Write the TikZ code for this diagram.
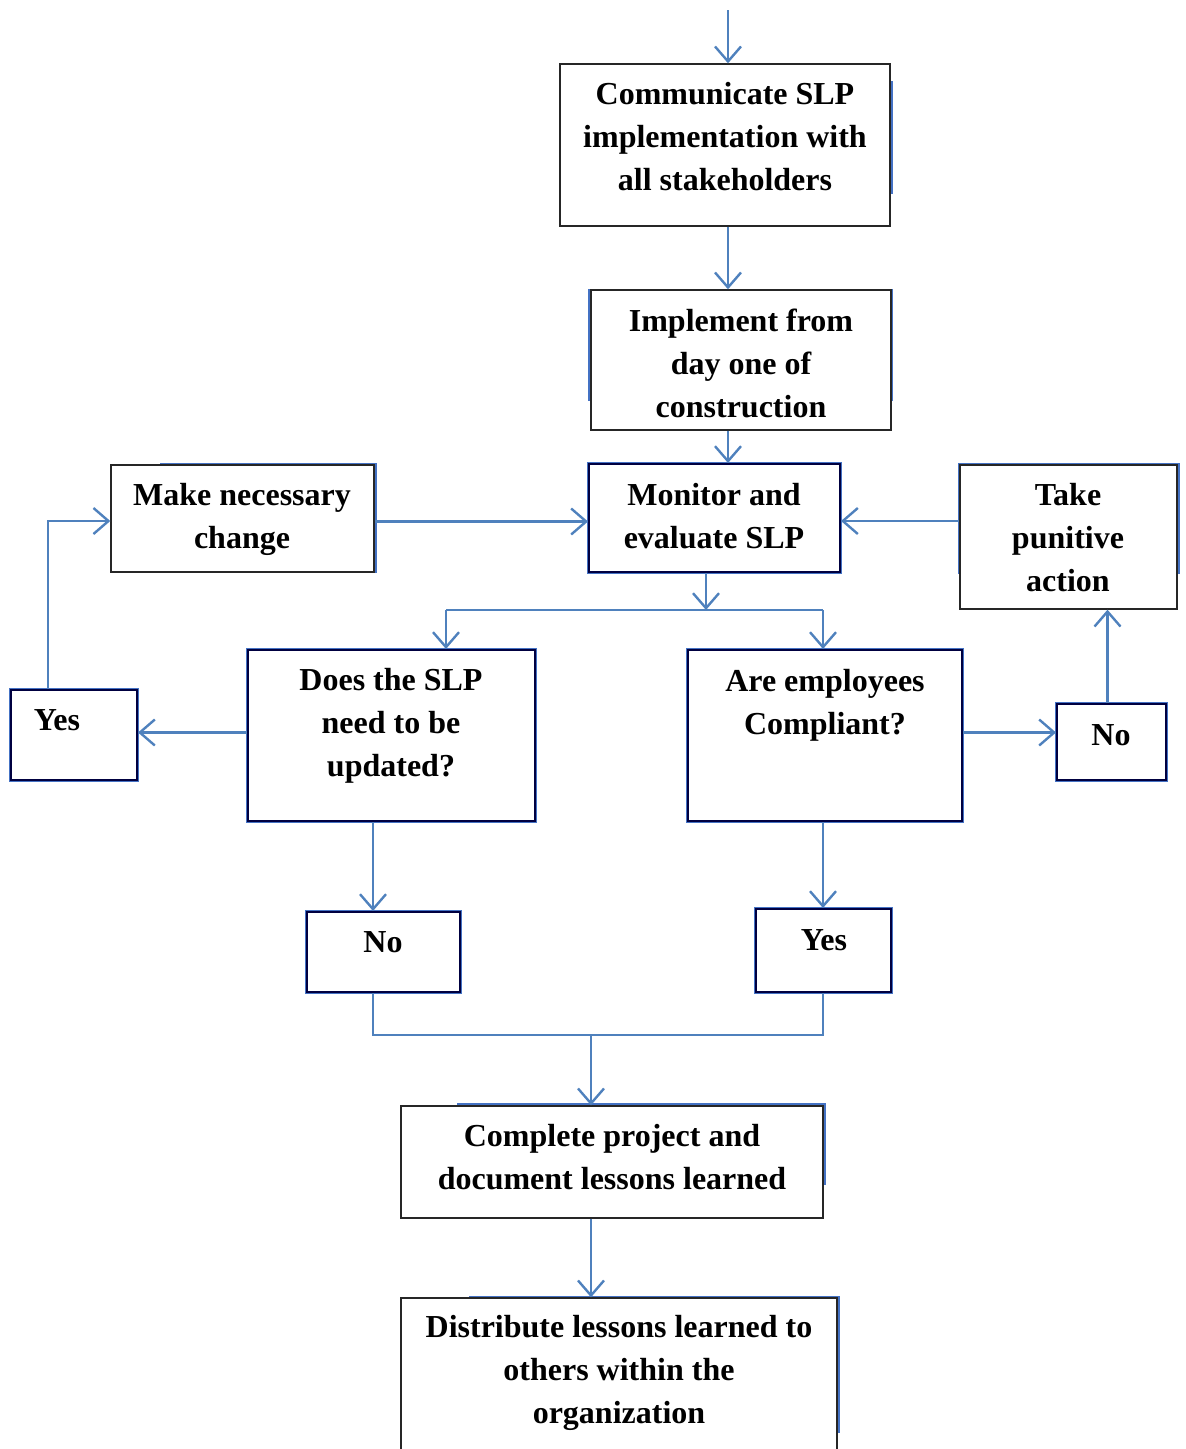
\documentclass[tikz,border=0pt]{standalone}
\usepackage{fontspec}
\setmainfont{Liberation Serif}
\usetikzlibrary{arrows.meta, positioning}
\definecolor{linkblue}{RGB}{79,129,189}
\definecolor{edgeblue}{RGB}{68,114,196}
\tikzset{
  plainbox/.style={draw=black!85, line width=1.4pt, fill=white, inner sep=0pt},
  bluebox/.style={draw=black!75!blue, line width=2pt, fill=white, inner sep=0pt,
    preaction={draw=edgeblue, line width=4.4pt}},
  ghost/.style={draw=edgeblue, line width=2.6pt},
  boxtext/.style={align=center, font=\fontsize{32}{43}\selectfont\bfseries, inner sep=0pt},
  link/.style={draw=linkblue, line width=2.4pt},
  flow/.style={link, -{Straight Barb[length=15pt,width=26pt]}}
}

\begin{document}
\begin{tikzpicture}[x=1pt,y=-1pt]
\useasboundingbox (0,0) rectangle (1186,1449);

% blue outlines showing behind some boxes
\draw[ghost] (700,82) rectangle (892,193);
\draw[ghost] (589,290) rectangle (892,400);
\draw[ghost] (161,464) rectangle (376,572);
\draw[ghost] (959,464) rectangle (1179,573);
\draw[ghost] (458,1104) rectangle (825,1184);
\draw[ghost] (470,1297) rectangle (839,1432);

% boxes
\node[plainbox, minimum width=330pt, minimum height=162pt] (comm) at (725,145) {};
\node[plainbox, minimum width=300pt, minimum height=140pt] (impl) at (741,360) {};
\node[bluebox, minimum width=251pt, minimum height=108pt] (mon) at (714.5,518) {};
\node[plainbox, minimum width=263pt, minimum height=107pt] (make) at (242.5,518.5) {};
\node[plainbox, minimum width=217pt, minimum height=144pt] (take) at (1068.5,537) {};
\node[bluebox, minimum width=287pt, minimum height=171pt] (does) at (391.5,735.5) {};
\node[bluebox, minimum width=274pt, minimum height=171pt] (are) at (825,735.5) {};
\node[bluebox, minimum width=126pt, minimum height=90pt] (yesL) at (74,735) {};
\node[bluebox, minimum width=109pt, minimum height=76pt] (noR) at (1111.5,742) {};
\node[bluebox, minimum width=153pt, minimum height=80pt] (noB) at (383.5,952) {};
\node[bluebox, minimum width=135pt, minimum height=83pt] (yesB) at (823.5,950.5) {};
\node[plainbox, minimum width=422pt, minimum height=112pt] (done) at (612,1162) {};
\node[plainbox, minimum width=436pt, minimum height=182pt] (dist) at (619,1389) {};

% texts
\node[boxtext] (comm-txt) at (725,137) {Communicate SLP\\implementation with\\all stakeholders};
\node[boxtext] (impl-txt) at (741,363) {Implement from\\day one of\\construction};
\node[boxtext] (mon-txt) at (714,516) {Monitor and\\evaluate SLP};
\node[boxtext] (make-txt) at (242,519) {Make necessary\\change};
\node[boxtext] (take-txt) at (1068,537.5) {Take\\punitive\\action};
\node[boxtext] (does-txt) at (391,726) {Does the SLP\\need to be\\updated?};
\node[boxtext] (are-txt) at (825,705) {Are employees\\Compliant?};
\node[boxtext] (yesL-txt) at (57,720) {Yes};
\node[boxtext] (noR-txt) at (1111,735) {No};
\node[boxtext] (noB-txt) at (383,942) {No};
\node[boxtext] (yesB-txt) at (824,940) {Yes};
\node[boxtext] (done-txt) at (612,1157) {Complete project and\\document lessons learned};
\node[boxtext] (dist-txt) at (619,1373) {Distribute lessons learned to\\others within the\\organization};

% connectors
\coordinate (start) at (728,10);
\coordinate (split) at (706,610);
\coordinate (splitL) at (446,610);
\coordinate (splitR) at (823,610);
\coordinate (loopL) at (48,521);
\coordinate (joinL) at (373,1035);
\coordinate (joinR) at (823,1035);
\coordinate (joinM) at (591,1035);

\draw[flow] (start) -- (start |- comm.north);
\draw[flow] (comm.south -| start) -- (start |- impl.north);
\draw[flow] (impl.south -| start) -- (start |- mon.north);
\draw[flow] ([yshift=-3pt]make.east) -- ([yshift=-3pt]make.east -| mon.west);
\draw[flow] ([yshift=-3pt]mon.east -| take.west) -- ([yshift=-3pt]mon.east);
\draw[flow] (mon.south -| split) -- (split);
\draw[link] (splitL) -- (splitR);
\draw[flow] (splitL) -- (splitL |- does.north);
\draw[flow] (splitR) -- (splitR |- are.north);
\draw[flow] ([yshift=3pt]does.west) -- ([yshift=3pt]does.west -| yesL.east);
\draw[flow] (yesL.north -| loopL) -- (loopL) -- (loopL -| make.west);
\draw[flow] ([yshift=3pt]are.east) -- ([yshift=3pt]are.east -| noR.west);
\draw[flow] ([xshift=-4pt]noR.north) -- ([xshift=-4pt]noR.north |- take.south);
\draw[flow] (does.south -| joinL) -- (joinL |- noB.north);
\draw[flow] (are.south -| joinR) -- (joinR |- yesB.north);
\draw[link] (noB.south -| joinL) -- (joinL) -- (joinR) -- (yesB.south -| joinR);
\draw[flow] (joinM) -- (joinM |- done.north);
\draw[flow] (done.south -| joinM) -- (joinM |- dist.north);
\end{tikzpicture}
\end{document}
